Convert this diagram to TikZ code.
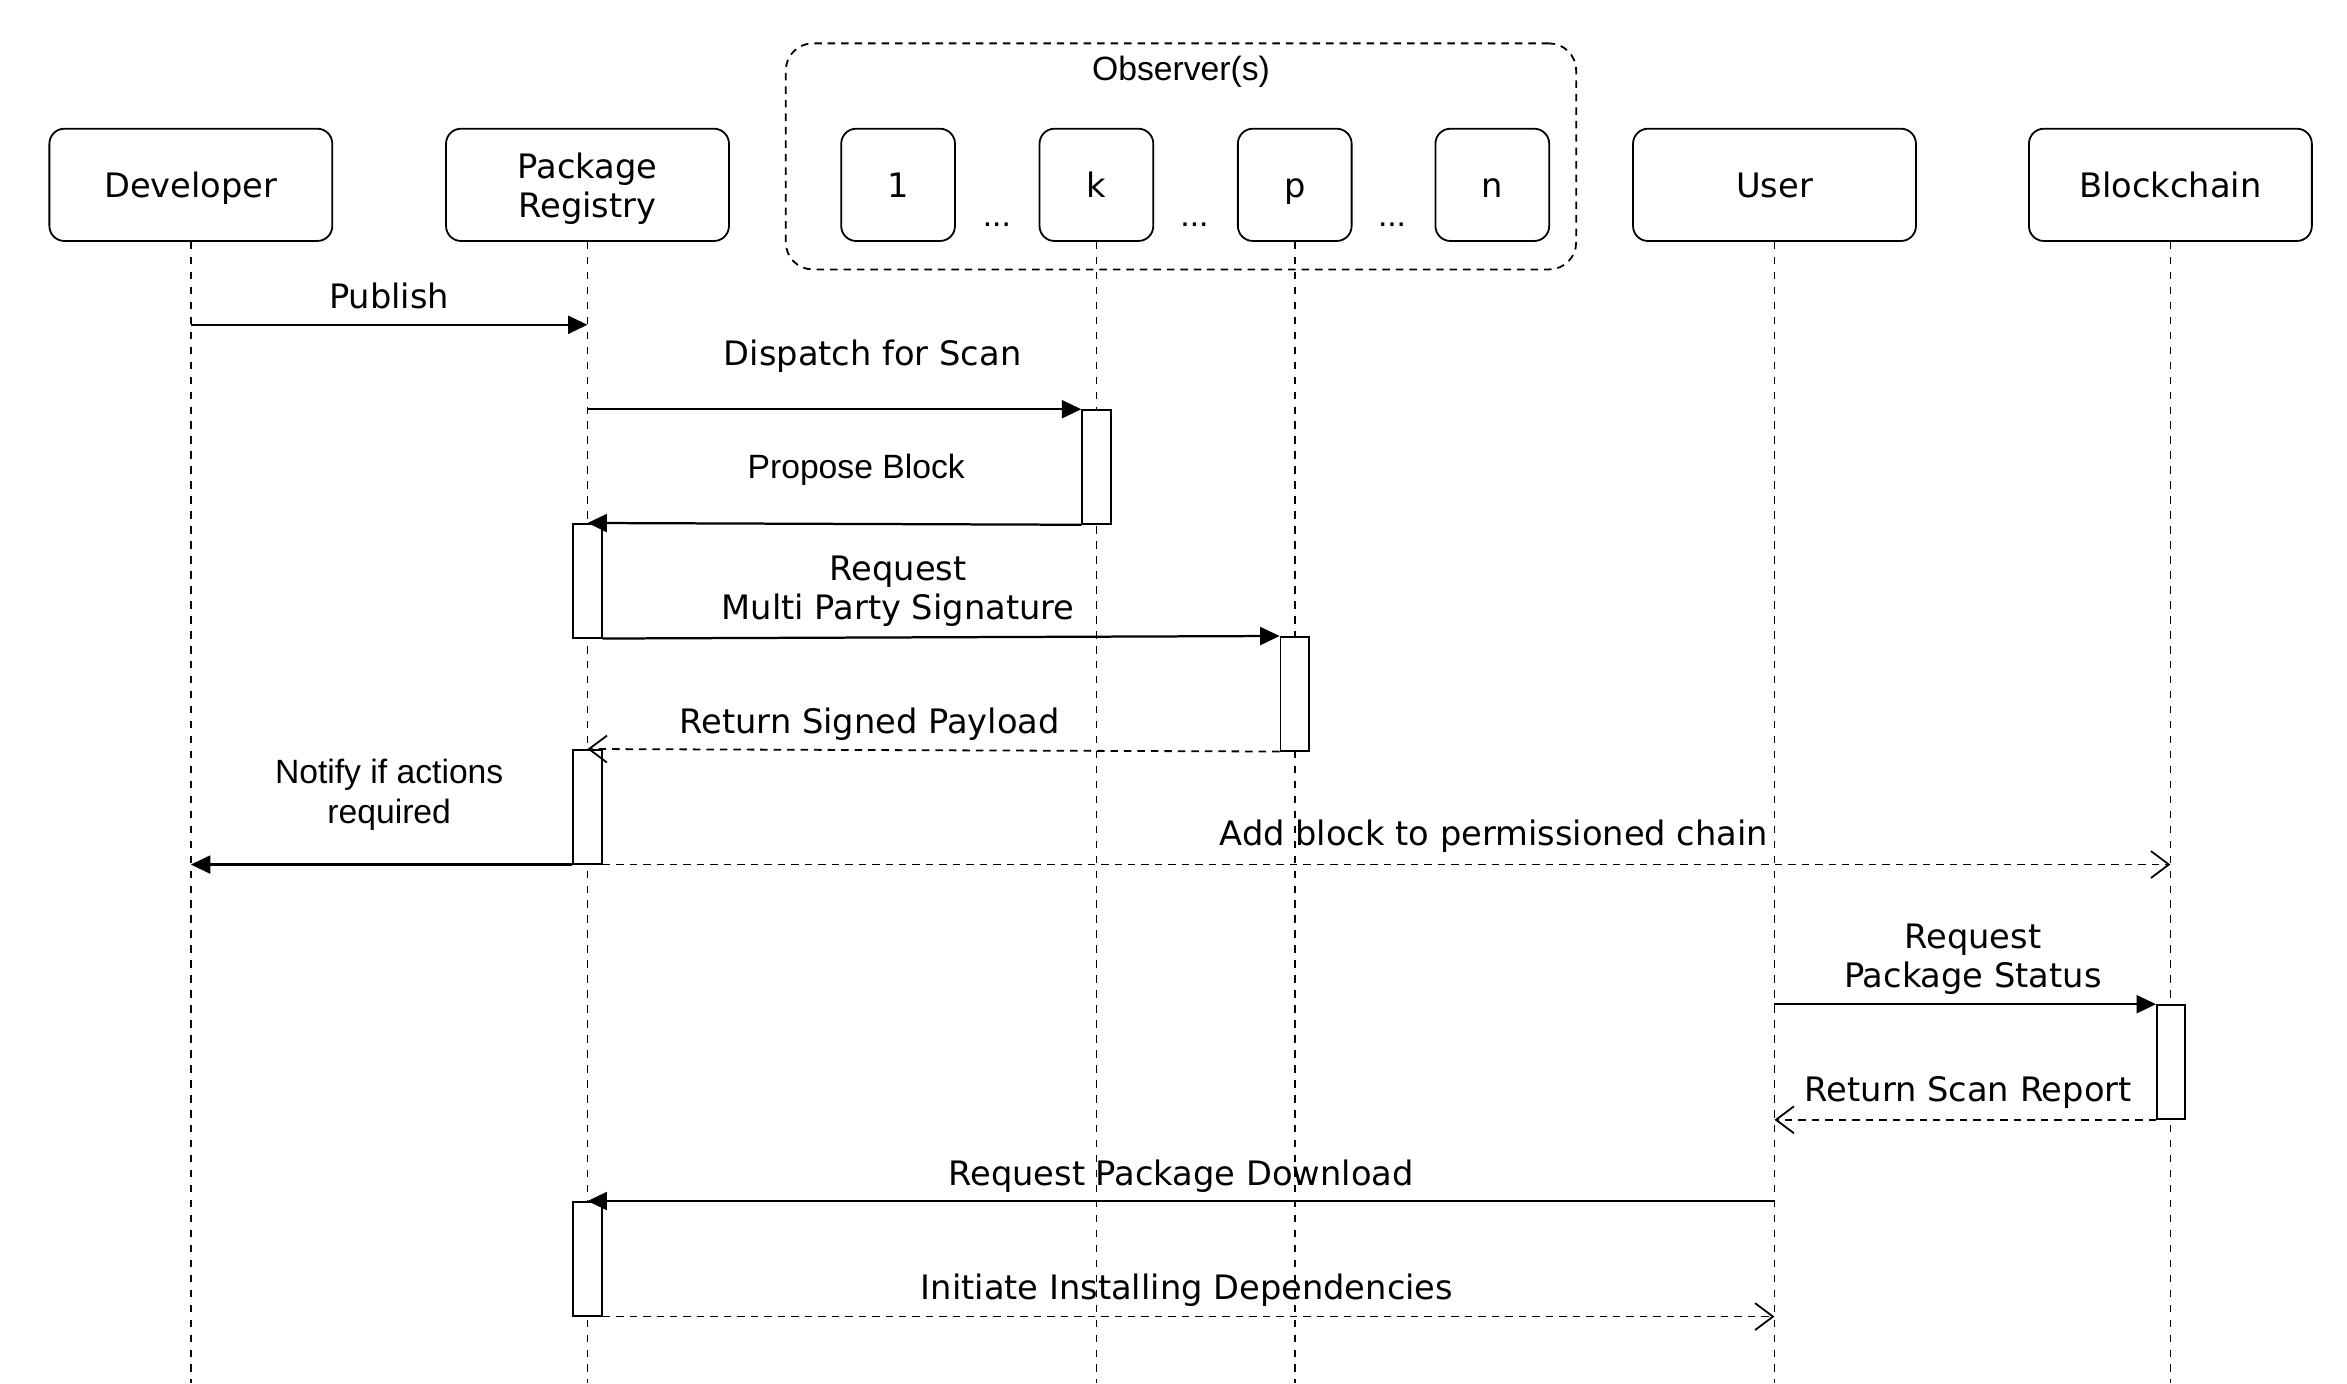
\documentclass[tikz,border=0pt]{standalone}
\usepackage{fontspec}
\setmainfont{DejaVu Sans}
\newfontfamily\helv{Liberation Sans}
\usetikzlibrary{arrows.meta,calc}
\begin{document}
\begin{tikzpicture}[x=0.5pt,y=-0.5pt,
  font=\fontsize{11.25}{13}\selectfont,
  actor/.style={draw, rounded corners=5pt, minimum width=94.5pt, minimum height=37.5pt, line width=0.6pt, align=center, inner sep=0pt, text height=10.5pt, text depth=2pt},
  obs/.style={actor, minimum width=38pt},
  grp/.style={draw, rounded corners=9pt, line width=0.6pt, dash pattern=on 2.5pt off 2pt, minimum width=264pt, minimum height=75.5pt, inner sep=0pt},
  life/.style={line width=0.5pt, dash pattern=on 2.5pt off 2.5pt},
  act/.style={draw, fill=white, line width=0.6pt, minimum width=9.5pt, minimum height=38pt, inner sep=0pt},
  msg/.style={line width=0.75pt, -{Triangle[length=6.5pt,width=6pt]}},
  rep/.style={line width=0.6pt, dash pattern=on 2.5pt off 2pt, -{Straight Barb[length=6pt,width=9pt,line width=0.6pt]}},
  lbl/.style={inner sep=0pt, align=center, text height=9.5pt, text depth=2.5pt},
  mlbl/.style={inner sep=0pt, align=center},
  hlbl/.style={lbl, font=\helv\fontsize{11.25}{13.5}\selectfont},
  hmlbl/.style={mlbl, font=\helv\fontsize{11.25}{13.5}\selectfont},
]
\useasboundingbox (0,0) rectangle (1568,924);
\coordinate (bottom) at (0,924);
\coordinate (y1) at (0,217);

% observer group
\node[grp] (obsgrp) at (789,104.5) {};
\node[hlbl] (obslbl) at (789,47) {Observer(s)};

% actors
\node[actor] (dev) at (127.5,123.5) {Developer};
\node[actor, text height=23.5pt] (reg) at (392.5,123.5) {Package\\Registry};
\node[obs] (o1) at (600,123.5) {1};
\node[obs] (ok) at (732.5,123.5) {k};
\node[obs] (op) at (865,123.5) {p};
\node[obs] (on) at (997,123.5) {n};
\node[actor] (user) at (1185.5,123.5) {User};
\node[actor] (bc) at (1450,123.5) {Blockchain};

\node[hlbl, text height=2pt, text depth=0pt] (d1) at (666,149) {...};
\node[hlbl, text height=2pt, text depth=0pt] (d2) at (798,149) {...};
\node[hlbl, text height=2pt, text depth=0pt] (d3) at (930,149) {...};

% lifelines
\foreach \a in {dev,reg,ok,op,user,bc}{
  \draw[life] (\a.south) -- (\a.south |- bottom);
}

% activations
\node[act] (ak) at (732.5,312) {};
\node[act] (ar1) at (392.5,388) {};
\node[act] (ap) at (865,463.5) {};
\node[act] (ar2) at (392.5,539) {};
\node[act] (ab) at (1450.5,709.5) {};
\node[act] (ar3) at (392.5,841) {};

% messages
\draw[msg] (dev.south |- y1) -- (reg.south |- y1);
\node[lbl] at (260,199) {Publish};

\draw[msg] (reg.south |- ak.north) -- (ak.north west);
\node[lbl] at (583,237) {Dispatch for Scan};

\draw[msg] (ak.south west) -- (ar1.north);
\node[hlbl] at (572,313) {Propose Block};

\draw[msg] (ar1.south east) -- (ap.north west);
\node[mlbl] at (600,395) {Request\\Multi Party Signature};

\draw[rep] (ap.south west) -- (ar2.north);
\node[lbl] at (581,483) {Return Signed Payload};

\draw[msg] (ar2.south west) -- (dev.south |- ar2.south);
\node[hmlbl] at (260,531) {Notify if actions\\required};

\draw[rep] (ar2.south east) -- (bc.south |- ar2.south);
\node[lbl] at (998,558) {Add block to permissioned chain};

\draw[msg] (user.south |- ab.north) -- (ab.north west);
\node[mlbl] at (1318,641) {Request\\Package Status};

\draw[rep] (ab.south west) -- (user.south |- ab.south);
\node[lbl] at (1315,729) {Return Scan Report};

\draw[msg] (user.south |- ar3.north) -- (ar3.north);
\node[lbl] at (789,785) {Request Package Download};

\draw[rep] (ar3.south east) -- (user.south |- ar3.south);
\node[lbl] at (793,861) {Initiate Installing Dependencies};
\end{tikzpicture}
\end{document}
